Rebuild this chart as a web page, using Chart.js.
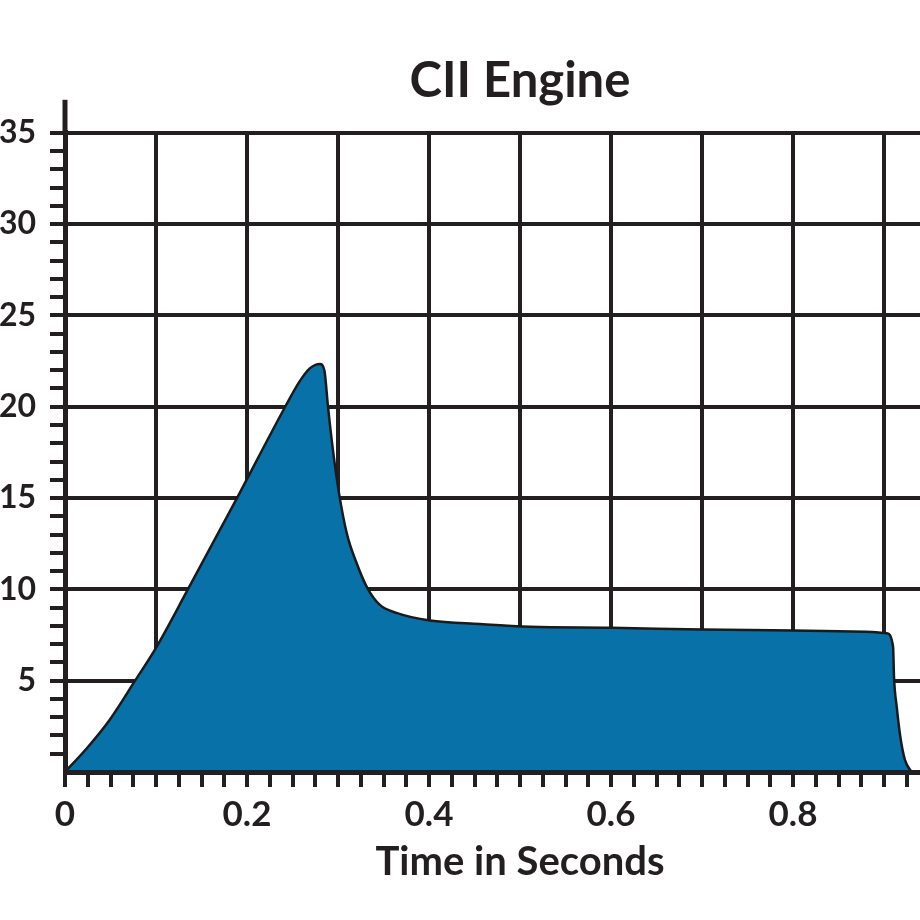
<!DOCTYPE html>
<html>
<head>
<meta charset="utf-8">
<script src="https://cdn.jsdelivr.net/npm/chart.js@4"></script>
<style>
  html, body { margin: 0; padding: 0; overflow: hidden; background: #fff; }
  #wrap { position: relative; width: 1042px; height: 920px; }
</style>
</head>
<body>
<div id="wrap"><canvas id="engineChart"></canvas></div>
<script>
// time (s) and value
const times = [0, 0.024, 0.049, 0.077, 0.1, 0.134, 0.189, 0.242, 0.258, 0.269, 0.2802, 0.285, 0.289, 0.294, 0.301, 0.31, 0.32, 0.332, 0.346, 0.365, 0.401, 0.456, 0.511, 0.6, 0.7, 0.8, 0.88, 0.903, 0.91, 0.911, 0.914, 0.918, 0.923, 0.929, 0.932];
const values = [0, 1.3, 2.85, 5.0, 6.8, 9.9, 15.0, 20.0, 21.4, 22.1, 22.34, 22.0, 20.0, 17.8, 15.3, 13.0, 11.5, 10.1, 9.15, 8.7, 8.3, 8.1, 7.95, 7.9, 7.8, 7.75, 7.68, 7.6, 6.85, 5.2, 3.56, 1.9, 0.66, 0.1, 0];
const xLabels = [0, 0.2, 0.4, 0.6, 0.8];
const yLabels = [5, 10, 15, 20, 25, 30, 35];

const ink = "#231f20";
const font = "Lato";

const axisExtend = {
    id: "axisExtend",
    afterDraw(chart) {
        const { ctx, chartArea } = chart;
        ctx.save();
        ctx.strokeStyle = ink;
        ctx.lineWidth = 5;
        ctx.beginPath();
        ctx.moveTo(chartArea.left, chartArea.top + 2);
        ctx.lineTo(chartArea.left, chartArea.top - 33);
        ctx.stroke();
        ctx.restore();
    }
};

const near = (a, b) => Math.abs(a - b) < 1e-6;

document.addEventListener("DOMContentLoaded", () => {
    const ctx = document.getElementById("engineChart").getContext("2d");
    new Chart(ctx, {
        type: "line",
        data: {
            datasets: [{
                data: times.map((t, i) => ({ x: t, y: values[i] })),
                borderColor: "#1a1a1a",
                borderWidth: 2.5,
                backgroundColor: "#0872a8",
                fill: "origin",
                pointRadius: 0,
                cubicInterpolationMode: "monotone"
            }]
        },
        options: {
            responsive: true,
            maintainAspectRatio: false,
            animation: false,
            layout: { padding: { left: 0, right: 67, top: 0, bottom: 0 } },
            plugins: {
                legend: { display: false },
                tooltip: { enabled: false },
                title: {
                    display: true,
                    fullSize: false,
                    text: "CII Engine",
                    color: ink,
                    font: { family: font, size: 49, weight: "bold" },
                    padding: { top: 52, bottom: 22 }
                }
            },
            scales: {
                x: {
                    type: "linear",
                    min: 0,
                    max: 1.0,
                    afterFit: s => { s.height = 148; },
                    border: { display: true, color: ink, width: 5, z: 1 },
                    grid: {
                        color: c => (c.tick && c.tick.value > 0 && near(c.tick.value * 10, Math.round(c.tick.value * 10))) ? ink : "transparent",
                        tickColor: ink,
                        lineWidth: 4,
                        tickLength: 15,
                        drawTicks: true
                    },
                    ticks: {
                        stepSize: 0.025,
                        maxTicksLimit: 100,
                        autoSkip: false,
                        maxRotation: 0,
                        minRotation: 0,
                        padding: 7,
                        color: ink,
                        font: { family: font, size: 35, weight: "bold" },
                        callback: v => {
                            const hit = xLabels.find(l => near(l, v));
                            if (hit === undefined) return "";
                            return hit === 0 ? "0" : hit.toFixed(1);
                        }
                    },
                    title: {
                        display: true,
                        text: "Time in Seconds",
                        color: ink,
                        font: { family: font, size: 40, weight: "bold" },
                        padding: { top: 0, bottom: 34 }
                    }
                },
                y: {
                    min: 0,
                    max: 35,
                    afterFit: s => { s.width = 65; },
                    border: { display: true, color: ink, width: 5, z: 1 },
                    grid: {
                        color: c => (c.tick && c.tick.value > 0 && c.tick.value % 5 === 0) ? ink : "transparent",
                        tickColor: c => (c.tick && c.tick.value === 0) ? "transparent" : ink,
                        lineWidth: 4,
                        tickLength: 15,
                        drawTicks: true
                    },
                    ticks: {
                        stepSize: 1,
                        maxTicksLimit: 100,
                        autoSkip: false,
                        padding: 14,
                        color: ink,
                        font: { family: font, size: 32, weight: "bold" },
                        callback: v => yLabels.includes(v) ? String(v) : ""
                    }
                }
            }
        },
        plugins: [axisExtend]
    });
});
</script>
</body>
</html>
